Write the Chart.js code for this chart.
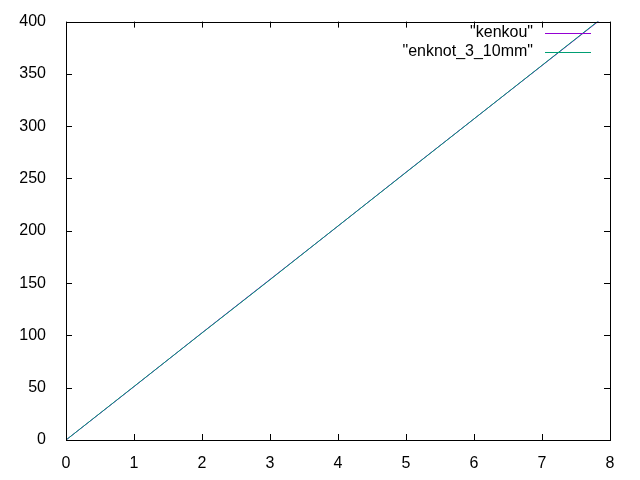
<!DOCTYPE html>
<html>
<head>
<meta charset="utf-8">
<script src="https://cdn.jsdelivr.net/npm/chart.js@4"></script>
<style>
  html, body { margin: 0; padding: 0; background: #fff; }
  #wrap { width: 640px; height: 480px; }
</style>
</head>
<body>
<div id="wrap"><canvas id="c" width="640" height="480"></canvas></div>
<script>
// values
const seriesNames = ['"kenkou"', '"enknot_3_10mm"'];
const kenkouX = [0, 1, 2, 3, 4, 5, 6, 7, 8];
const kenkouY = [0, 51, 102.5, 153.5, 204.5, 256, 307, 358, 409];
const enknotX = [0, 1, 2, 3, 4, 5, 6, 7, 8];
const enknotY = [0, 51.2, 102.3, 153.2, 204.6, 255.8, 307, 358.2, 409.5];
const xTicks = [0, 1, 2, 3, 4, 5, 6, 7, 8];
const yTicks = [0, 50, 100, 150, 200, 250, 300, 350, 400];
const colors = ['#9400d3', '#009e73'];

const FONT = '"Liberation Sans", Arial, sans-serif';

const toPoints = (xs, ys) => xs.map((x, i) => ({ x: x, y: ys[i] }));

// gnuplot style frame: full border, ticks pointing inward on all four sides
const framePlugin = {
  id: 'frame',
  afterDraw(chart) {
    const { ctx, chartArea: a, scales } = chart;
    ctx.save();
    ctx.strokeStyle = '#000';
    ctx.lineWidth = 1;
    ctx.strokeRect(Math.round(a.left) + 0.5, Math.round(a.top) + 0.5,
      Math.round(a.right - a.left), Math.round(a.bottom - a.top));
    ctx.beginPath();
    xTicks.forEach(v => {
      const px = Math.round(scales.x.getPixelForValue(v)) + 0.5;
      ctx.moveTo(px, a.bottom); ctx.lineTo(px, a.bottom - 6);
      ctx.moveTo(px, a.top); ctx.lineTo(px, a.top + 6);
    });
    yTicks.forEach(v => {
      const py = Math.round(scales.y.getPixelForValue(v)) + 0.5;
      ctx.moveTo(a.left, py); ctx.lineTo(a.left + 6, py);
      ctx.moveTo(a.right, py); ctx.lineTo(a.right - 6, py);
    });
    ctx.stroke();

    // key, text right aligned with sample line after it
    ctx.font = '16px ' + FONT;
    ctx.textAlign = 'right';
    ctx.textBaseline = 'middle';
    seriesNames.forEach((name, i) => {
      const y = 33 + i * 19;
      ctx.fillStyle = '#000';
      ctx.fillText(name, 533, y);
      ctx.strokeStyle = colors[i];
      ctx.beginPath();
      ctx.moveTo(545, y + 0.5);
      ctx.lineTo(591, y + 0.5);
      ctx.stroke();
    });
    ctx.restore();
  }
};

new Chart(document.getElementById('c'), {
  type: 'scatter',
  data: {
    datasets: [
      { data: toPoints(kenkouX, kenkouY), borderColor: colors[0], borderWidth: 1, showLine: true, pointRadius: 0, order: 1 },
      { data: toPoints(enknotX, enknotY), borderColor: colors[1], borderWidth: 1, showLine: true, pointRadius: 0, order: 0 }
    ]
  },
  options: {
    responsive: false,
    animation: false,
    events: [],
    layout: { padding: { top: 18, right: 30, left: 0, bottom: 0 } },
    plugins: { legend: { display: false }, tooltip: { enabled: false } },
    scales: {
      x: {
        type: 'linear', min: 0, max: 8,
        afterBuildTicks: s => { s.ticks = xTicks.map(v => ({ value: v })); },
        afterFit: s => { s.height = 40; },
        grid: { display: false },
        border: { display: false },
        ticks: { color: '#000', padding: 6, font: { family: FONT, size: 16 } }
      },
      y: {
        type: 'linear', min: 0, max: 400,
        afterBuildTicks: s => { s.ticks = yTicks.map(v => ({ value: v })); },
        afterFit: s => { s.width = 66; },
        grid: { display: false },
        border: { display: false },
        ticks: { color: '#000', padding: 12, font: { family: FONT, size: 16 } }
      }
    }
  },
  plugins: [framePlugin]
});
</script>
</body>
</html>
